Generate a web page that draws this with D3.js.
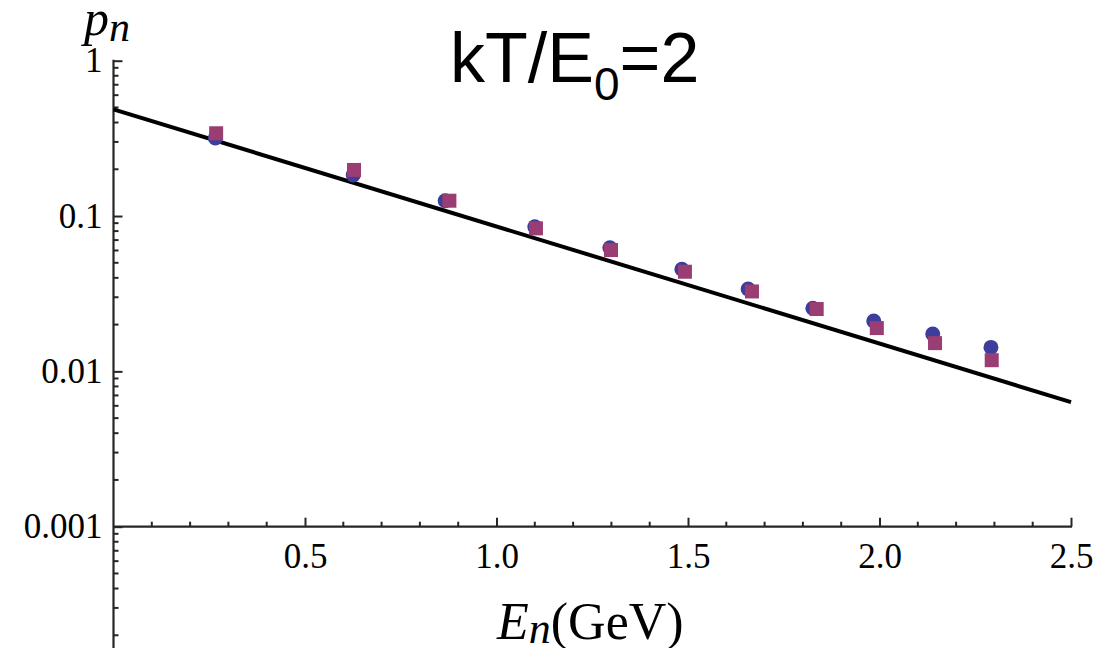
<!DOCTYPE html>
<html>
  <head>
    <meta charset="UTF-8">
    <script src="https://d3js.org/d3.v7.min.js"></script>
    <style>
        body {
            margin: 0;
            background: #fff;
        }
        svg {
            display: block;
        }
        .tickLabel text {
            font-family: 'Liberation Serif', 'Times New Roman', serif;
            font-size: 35px;
            fill: #000;
        }
        .axisLabel {
            font-family: 'Liberation Serif', 'Times New Roman', serif;
            fill: #000;
        }
        .title {
            font-family: 'Liberation Sans', Arial, sans-serif;
            fill: #000;
        }
    </style>
  </head>
  <body>
    <script>
        // values
        const circleE = [0.266, 0.626, 0.866, 1.100, 1.296, 1.484, 1.657, 1.826, 1.985, 2.139, 2.291]
        const circleP = [0.318, 0.184, 0.1255, 0.0853, 0.0625, 0.0454, 0.0339, 0.0255, 0.0211, 0.0174, 0.01426]
        const squareE = [0.268, 0.628, 0.877, 1.103, 1.299, 1.492, 1.667, 1.836, 1.993, 2.145, 2.293]
        const squareP = [0.341, 0.198, 0.1255, 0.0833, 0.0604, 0.0438, 0.0327, 0.0252, 0.0190, 0.0152, 0.0118]
        const fitE = [0, 2.5]
        const fitP = [0.486, 0.00634]
        const xMajorTicks = [0.5, 1.0, 1.5, 2.0, 2.5]
        const yMajorTicks = [1, 0.1, 0.01, 0.001]

        let svgWidth = 1108, svgHeight = 648
        let axisColor = '#262626'

        let x = d3.scaleLinear().domain([0, 2.5]).range([113.5, 1071])
        let y = d3.scaleLog().domain([0.001, 1]).range([526.7, 60.7])

        let svg = d3.select('body').append('svg')
            .attr('width', svgWidth)
            .attr('height', svgHeight)

        // minor ticks: 0.1 steps on x, 2..9 per decade on y
        let xMinor = d3.range(1, 25).map(i => i / 10).filter(v => Math.abs(v * 2 - Math.round(v * 2)) > 1e-6)
        let yMinor = []
        ;[1e-4, 1e-3, 1e-2, 1e-1].forEach(d => {
            for (let k = 2; k <= 9; k++) yMinor.push(k * d)
        })
        yMinor = yMinor.filter(v => y(v) <= svgHeight)

        // y axis (ticks pointing into the plot, labels on the left)
        let yAxis = svg.append('g')
            .attr('class', 'tickLabel')
            .attr('transform', `translate(${x(0)}, 0)`)
            .call(d3.axisLeft(y).tickValues(yMajorTicks).tickSize(-9).tickPadding(11)
                .tickFormat(d => d3.format('~g')(d)))
        yAxis.select('.domain').remove()
        yAxis.selectAll('line').attr('stroke', axisColor).attr('stroke-width', 2)

        svg.append('g')
            .attr('transform', `translate(${x(0)}, 0)`)
            .selectAll('line')
            .data(yMinor)
            .join('line')
            .attr('x1', 0).attr('x2', 5)
            .attr('y1', d => y(d)).attr('y2', d => y(d))
            .attr('stroke', axisColor).attr('stroke-width', 2)

        svg.append('line')
            .attr('x1', x(0)).attr('x2', x(0))
            .attr('y1', y(1) - 1).attr('y2', svgHeight)
            .attr('stroke', axisColor).attr('stroke-width', 2.2)

        // x axis along p = 0.001
        let xAxis = svg.append('g')
            .attr('class', 'tickLabel')
            .attr('transform', `translate(0, ${y(0.001)})`)
            .call(d3.axisBottom(x).tickValues(xMajorTicks).tickSize(-9).tickPadding(16)
                .tickFormat(d3.format('.1f')))
        xAxis.select('.domain').remove()
        xAxis.selectAll('line').attr('stroke', axisColor).attr('stroke-width', 2)

        svg.append('g')
            .attr('transform', `translate(0, ${y(0.001)})`)
            .selectAll('line')
            .data(xMinor)
            .join('line')
            .attr('x1', d => x(d)).attr('x2', d => x(d))
            .attr('y1', 0).attr('y2', -5)
            .attr('stroke', axisColor).attr('stroke-width', 2)

        svg.append('line')
            .attr('x1', x(0)).attr('x2', x(2.5) + 1)
            .attr('y1', y(0.001)).attr('y2', y(0.001))
            .attr('stroke', axisColor).attr('stroke-width', 2.2)

        // fit line
        svg.append('path')
            .datum(d3.zip(fitE, fitP))
            .attr('d', d3.line().x(d => x(d[0])).y(d => y(d[1])))
            .attr('fill', 'none')
            .attr('stroke', '#000')
            .attr('stroke-width', 4)

        // markers
        svg.append('g')
            .selectAll('circle')
            .data(d3.zip(circleE, circleP))
            .join('circle')
            .attr('cx', d => x(d[0]))
            .attr('cy', d => y(d[1]))
            .attr('r', 7.5)
            .attr('fill', '#3d3d9c')

        let sq = 14
        svg.append('g')
            .selectAll('rect')
            .data(d3.zip(squareE, squareP))
            .join('rect')
            .attr('x', d => x(d[0]) - sq / 2)
            .attr('y', d => y(d[1]) - sq / 2)
            .attr('width', sq)
            .attr('height', sq)
            .attr('fill', '#993d72')

        // axis labels
        let pLabel = svg.append('text')
            .attr('class', 'axisLabel')
            .attr('x', 84)
            .attr('y', 35)
            .style('font-style', 'italic')
        pLabel.append('tspan').style('font-size', '50px').text('p')
        pLabel.append('tspan').style('font-size', '42px').attr('dy', 6).text('n')

        let eLabel = svg.append('text')
            .attr('class', 'axisLabel')
            .attr('x', 497)
            .attr('y', 639)
        eLabel.append('tspan').style('font-size', '52px').style('font-style', 'italic').text('E')
        eLabel.append('tspan').style('font-size', '44px').style('font-style', 'italic').attr('dy', 4).text('n')
        eLabel.append('tspan').style('font-size', '52px').attr('dy', -4).text('(GeV)')

        // title
        let title = svg.append('text')
            .attr('class', 'title')
            .attr('x', 450)
            .attr('y', 82)
        title.append('tspan').style('font-size', '70px').text('kT/E')
        title.append('tspan').style('font-size', '46px').attr('dy', 18).text('0')
        title.append('tspan').style('font-size', '70px').attr('dy', -18).text('=2')
    </script>
  </body>
</html>
